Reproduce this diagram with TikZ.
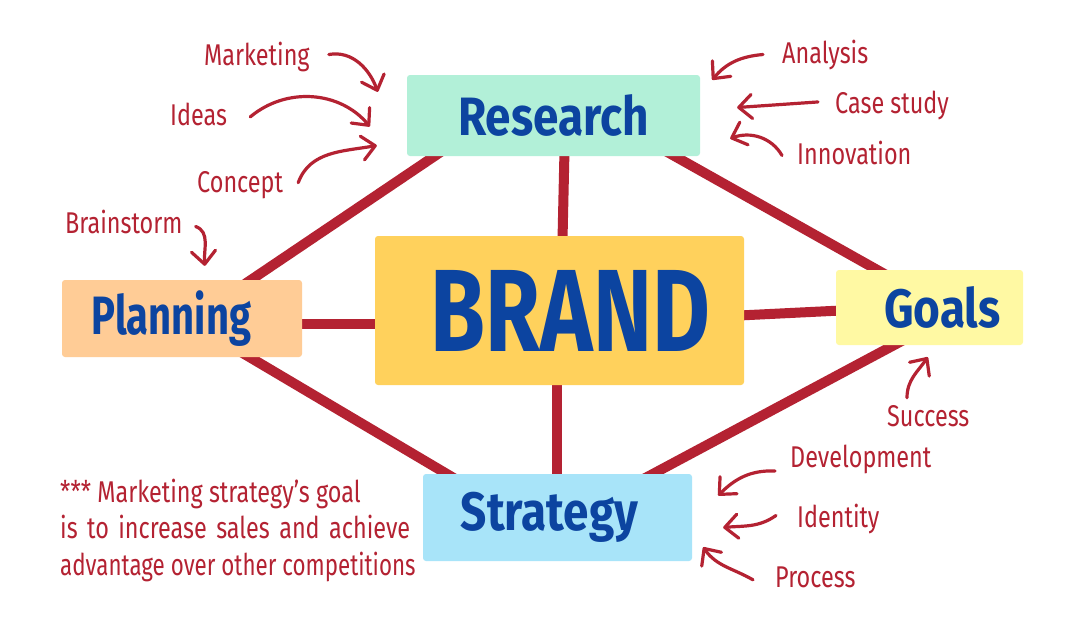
\documentclass[tikz,border=0pt]{standalone}
\usepackage{fontspec}
\usepackage{graphicx}
\setmainfont{Fira Sans}
\newfontfamily\handfont[FakeStretch=0.78]{Fira Sans}
\newfontfamily\boxfont[FakeStretch=0.85]{Fira Sans}
\newfontfamily\brandfont[FakeStretch=0.76]{Fira Sans}
\usetikzlibrary{arrows.meta,backgrounds}
\definecolor{lred}{RGB}{180,34,50}
\definecolor{tblue}{RGB}{12,68,160}
\definecolor{cres}{RGB}{178,240,216}
\definecolor{cbrand}{RGB}{255,209,92}
\definecolor{cplan}{RGB}{255,204,150}
\definecolor{cgoal}{RGB}{255,249,163}
\definecolor{cstrat}{RGB}{168,228,249}
\tikzset{
  box/.style={fill=#1, rounded corners=3pt, inner sep=0pt, text=tblue,
    font=\boxfont\bfseries\fontsize{54}{54}\selectfont},
  lbl/.style={anchor=base west, inner sep=0pt, text=lred,
    font=\handfont\fontsize{30}{36.5}\selectfont},
  conn/.style={draw=lred, line width=10pt},
  arr/.style={draw=lred, line width=3.2pt, line cap=round,
    -{Straight Barb[length=13pt,width=24pt,round]}},
}
\begin{document}
\begin{tikzpicture}[x=1pt,y=1pt]
\useasboundingbox (0,0) rectangle (1074,-641);
% boxes
\node[box=cres, minimum width=293pt, minimum height=81pt] (R) at (553.5,-115.5) {Research};
\node[box=cbrand, minimum width=369pt, minimum height=149pt,
  font=\brandfont\bfseries\fontsize{117}{117}\selectfont] (B) at (559.5,-310.5) {\hspace*{22pt}BRAND};
\node[box=cplan, minimum width=240pt, minimum height=77pt] (P) at (182,-318.5) {\scalebox{0.87}[1]{Planning}\hspace*{21pt}};
\node[box=cgoal, minimum width=187pt, minimum height=75pt] (G) at (929.5,-307.5) {\hspace*{26pt}Goals};
\node[box=cstrat, minimum width=269pt, minimum height=87pt] (S) at (557.5,-517.5) {Strategy\hspace*{16pt}};
% labels
\node[lbl] (mk) at (204,-65) {Marketing};
\node[lbl] (id) at (170,-125) {Ideas};
\node[lbl] (cc) at (197,-192) {Concept};
\node[lbl] (bs) at (65,-233) {Brainstorm};
\node[lbl] (an) at (782,-63) {Analysis};
\node[lbl] (cs) at (835,-113) {Case study};
\node[lbl] (inv) at (797,-164) {Innovation};
\node[lbl] (su) at (887,-426) {Success};
\node[lbl] (de) at (790,-467) {Development};
\node[lbl] (it) at (797,-527) {Identity};
\node[lbl] (pr) at (775,-587) {Process};
\node[lbl, align=left] (nt) at (60,-575) {*** Marketing strategy’s goal\\
  \makebox[350pt][s]{is to increase sales and achieve}\\
  \makebox[350pt][l]{\scalebox{0.955}[1]{advantage over other competitions}}};
% arrows
\draw[arr] ([shift={(19,2)}]mk.east) to[out=10,in=110] ([shift={(-29,-17)}]R.north west);
\draw[arr] ([shift={(23,-3)}]id.east) to[out=40,in=130] ([shift={(-37,-11)}]R.west);
\draw[arr] ([shift={(15,2)}]cc.east) to[out=70,in=190] ([shift={(-30,-30)}]R.west);
\draw[arr] ([shift={(13,-5)}]bs.east) to[out=-20,in=95] ([shift={(143,14)}]P.north west);
\draw[arr] ([shift={(-19,0)}]an.west) to[out=185,in=50] ([shift={(12,-5)}]R.north east);
\draw[arr] ([shift={(-17,3)}]cs.west) -- ([shift={(37,8)}]R.east);
\draw[arr] ([shift={(-15,-3)}]inv.west) to[out=120,in=20] ([shift={(30,-23)}]R.east);
\draw[arr] ([shift={(20,7)}]su.north west) to[out=90,in=235] ([shift={(92,-12)}]G.south west);
\draw[arr] ([shift={(-15,-12)}]de.west) to[out=178,in=45] ([shift={(26,22)}]S.east);
\draw[arr] ([shift={(-21,3)}]it.west) to[out=215,in=5] ([shift={(31,-10)}]S.east);
\draw[arr] ([shift={(-22,-3)}]pr.west) to[out=150,in=-55] ([shift={(11,14)}]S.south east);
% connectors
\begin{pgfonlayer}{background}
\fill[white] (0,0) rectangle (1074,-641);
\draw[conn] ([shift={(41,9)}]R.south west) -- ([shift={(173,-11)}]P.north west);
\draw[conn] ([shift={(-45,11)}]R.south east) -- ([shift={(59,-10)}]G.north west);
\draw[conn] ([shift={(11,6)}]R.south) -- ([shift={(3,-4)}]B.north);
\draw[conn] ([shift={(-5,-5)}]P.east) -- ([shift={(5,-13)}]B.west);
\draw[conn] ([shift={(-5,-5)}]B.east) -- ([shift={(5,-3)}]G.west);
\draw[conn] ([shift={(171,10)}]P.south west) -- ([shift={(39,-9)}]S.north west);
\draw[conn] ([shift={(-3,5)}]B.south) -- ([shift={(-1,-5)}]S.north);
\draw[conn] ([shift={(73,8)}]G.south west) -- ([shift={(-54,-8)}]S.north east);
\end{pgfonlayer}
\end{tikzpicture}
\end{document}
